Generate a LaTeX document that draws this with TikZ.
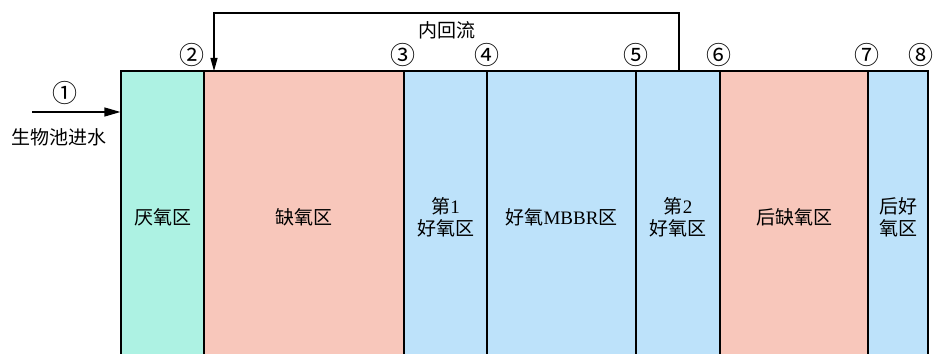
\documentclass[tikz,border=0pt]{standalone}
\usepackage{fontspec}
\setmainfont{Liberation Serif}
\newfontfamily\cjk{Noto Sans CJK SC}
\usetikzlibrary{arrows.meta}
\definecolor{cyanz}{RGB}{173,242,227}
\definecolor{salz}{RGB}{248,199,187}
\definecolor{bluez}{RGB}{189,226,250}
\tikzset{
  zone/.style={draw=black, line width=1.2pt, inner sep=0pt, minimum height=292pt, align=center,
    font=\cjk\fontsize{19}{22}\selectfont},
  lbl/.style={inner sep=0pt, align=center, font=\cjk\fontsize{19}{22}\selectfont},
  num/.style={inner sep=0pt, font=\cjk\fontsize{25}{25}\selectfont},
  flow/.style={line width=1.2pt, -{Triangle[length=13pt,width=7pt]}},
}
\begin{document}
\begin{tikzpicture}[x=1pt,y=1pt]
\clip (0,0) rectangle (933,353);
\node[zone, fill=cyanz, minimum width=83pt] (z1) at (162.5,136) {厌氧区};
\node[zone, fill=salz, minimum width=200pt] (z2) at (304,136) {缺氧区};
\node[zone, fill=bluez, minimum width=83pt] (z3) at (445.5,136) {第{\rmfamily 1}\\好氧区};
\node[zone, fill=bluez, minimum width=149pt] (z4) at (561.5,136) {好氧{\rmfamily MBBR}区};
\node[zone, fill=bluez, minimum width=84pt] (z5) at (678,136) {第{\rmfamily 2}\\好氧区};
\node[zone, fill=salz, minimum width=148pt] (z6) at (794,136) {后缺氧区};
\node[zone, fill=bluez, minimum width=60pt] (z7) at (898,136) {后好\\氧区};
% inlet
\coordinate (inlet) at (32,241);
\draw[flow,-{Triangle[length=16pt,width=9pt]}] (inlet) -- (z1.west |- inlet);
\node[num] (n1) at (65,260) {①};
\node[lbl] (inl) at (59,216) {生物池进水};
% internal recycle
\coordinate (rs) at (679,282);
\coordinate (re) at (214,282);
\draw[flow] (rs) -- ++(0,58) -| (re);
\node[lbl] (rec) at (447,323) {内回流};
% numbers
\node[num] (n2) at (192,298) {②};
\node[num] (n3) at (403,298) {③};
\node[num] (n4) at (487,298) {④};
\node[num] (n5) at (636,298) {⑤};
\node[num] (n6) at (719,298) {⑥};
\node[num] (n7) at (867,298) {⑦};
\node[num] (n8) at (921,298) {⑧};
\end{tikzpicture}
\end{document}
